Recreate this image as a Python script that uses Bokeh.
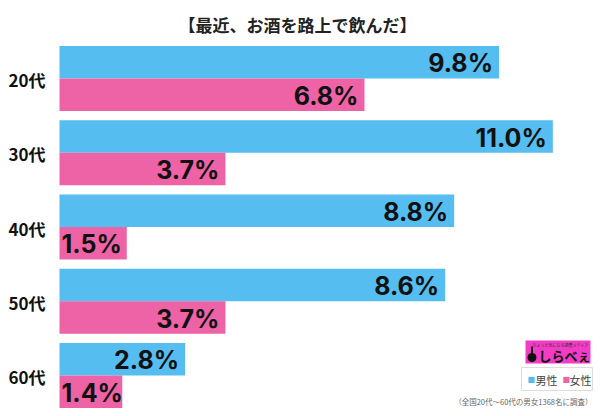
from bokeh.plotting import figure
from bokeh.models import Range1d
from bokeh.core.properties import value
from bokeh.embed import file_html
from bokeh.resources import INLINE

# ---- data ----
title = "【最近、お酒を路上で飲んだ】"
ages = ["20代", "30代", "40代", "50代", "60代"]
male = [9.8, 11.0, 8.8, 8.6, 2.8]
female = [6.8, 3.7, 1.5, 3.7, 1.4]
series_names = ["男性", "女性"]
footnote = "（全国20代～60代の男女1368名に調査）"
brand = "しらべぇ"

BLUE = "#55BDF0"
PINK = "#EE62A6"
LOGO = "#F23CC4"

W, H = 600, 416
X0 = 59.0        # pixel where value 0 sits
S = 44.85        # pixels per percentage point

def px(x):
    return (x - X0) / S

p = figure(width=W, height=H, output_backend="svg", toolbar_location=None,
           x_range=Range1d(px(0), px(W)), y_range=Range1d(H, 0),
           min_border=0, min_border_left=0, min_border_right=0,
           min_border_top=0, min_border_bottom=0)
p.axis.visible = False
p.grid.visible = False
p.outline_line_color = None
p.background_fill_color = "white"
p.border_fill_color = "white"

centers = [78 + 74.25 * i for i in range(len(ages))]
bh = 32.5

# bars
p.quad(left=[0] * len(male), right=male,
       top=[c - bh for c in centers], bottom=centers,
       fill_color=BLUE, line_color=None)
p.quad(left=[0] * len(female), right=female,
       top=centers, bottom=[c + bh for c in centers],
       fill_color=PINK, line_color=None)

# value labels
VFONT = value("Inter")
def add_labels(vals, ys):
    for v, y in zip(vals, ys):
        txt = f"{v:.1f}%"
        if v < 2.0:
            p.text(x=[px(X0 + 2)], y=[y], text=[txt], text_align="left",
                   text_baseline="middle", text_font=VFONT,
                   text_font_style="bold", text_font_size="25px", text_color="#111111")
        else:
            p.text(x=[v - 6 / S], y=[y], text=[txt], text_align="right",
                   text_baseline="middle", text_font=VFONT,
                   text_font_style="bold", text_font_size="25px", text_color="#111111")

add_labels(male, [c - bh / 2 + 1 for c in centers])
add_labels(female, [c + bh / 2 + 1 for c in centers])

# category labels
p.text(x=[px(45)] * len(ages), y=[c + 1 for c in centers], text=ages,
       text_align="right", text_baseline="middle",
       text_font=value("Noto Sans CJK JP"), text_font_style="bold",
       text_font_size="17px", text_color="#111111")

# title
p.text(x=[px(297)], y=[24], text=[title], text_align="center",
       text_baseline="middle", text_font=value("Noto Sans CJK JP"),
       text_font_style="bold", text_font_size="17px", text_color="#222222")

# logo
p.quad(left=[px(525)], right=[px(590)], top=[340], bottom=[363],
       fill_color=LOGO, line_color=None)
p.ellipse(x=[px(531.5)], y=[357], width=[9 / S], height=[9],
          fill_color="#111111", line_color=None)
p.quad(left=[px(530.5)], right=[px(532.5)], top=[346], bottom=[354],
       fill_color="#111111", line_color=None)
p.text(x=[px(560)], y=[344], text=["ちょっと気になる調査メディア"], text_align="center",
       text_baseline="middle", text_font=value("Noto Sans CJK JP"),
       text_font_size="4px", text_color="#333333")
p.text(x=[px(538)], y=[355], text=[brand], text_align="left",
       text_baseline="middle", text_font=value("Noto Sans CJK JP"),
       text_font_style="bold", text_font_size="13px", text_color="#111111")

# legend box
p.quad(left=[px(521)], right=[px(592)], top=[367], bottom=[390],
       fill_color="white", line_color="#dddddd", line_width=1)
p.text(x=[px(527), px(562)], y=[379, 379], text=["■", "■"], text_align="left",
       text_baseline="middle", text_font=value("DejaVu Sans"),
       text_font_size="8px", text_color=[BLUE, PINK])
p.text(x=[px(535), px(569)], y=[379, 379], text=series_names, text_align="left",
       text_baseline="middle", text_font=value("Noto Sans CJK JP"),
       text_font_size="11px", text_color="#444444")

# footnote
p.text(x=[px(592)], y=[401], text=[footnote], text_align="right",
       text_baseline="middle", text_font=value("Noto Sans CJK JP"),
       text_font_size="7.5px", text_color="#666666")

open("out.html", "w").write(file_html(p, INLINE))
